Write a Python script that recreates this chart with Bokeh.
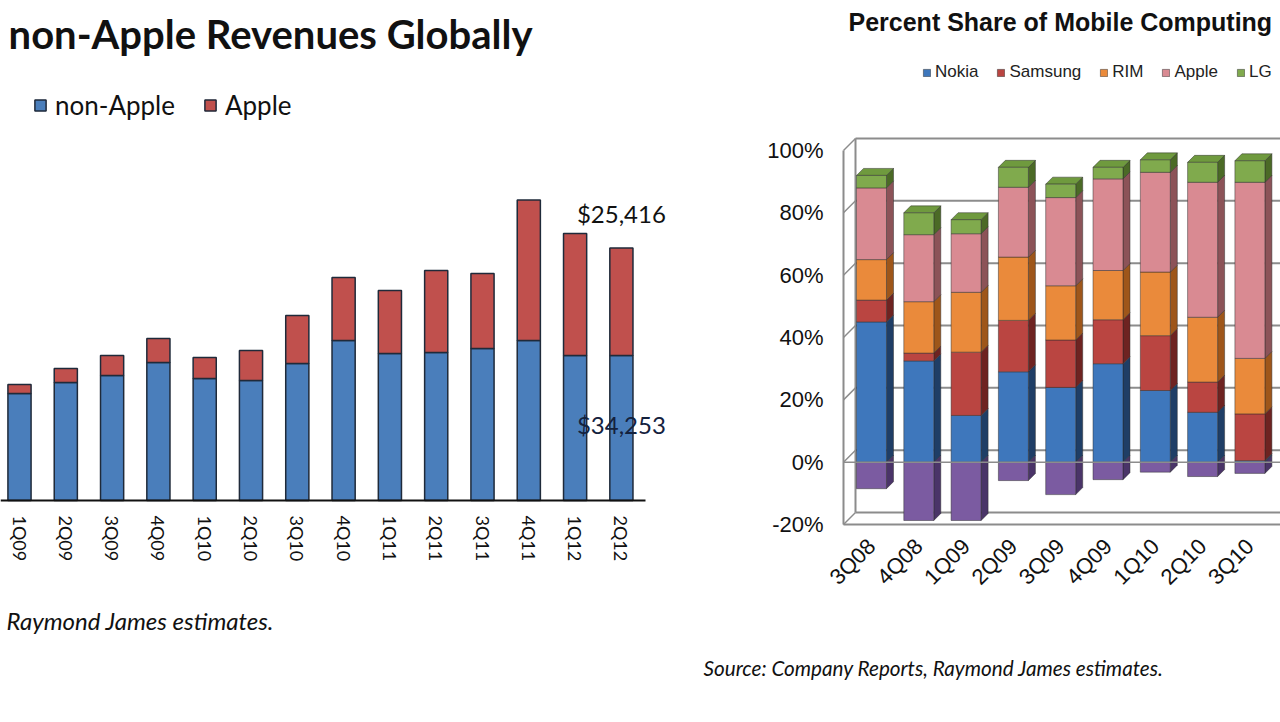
import math
import numpy as np
from bokeh.plotting import figure
from bokeh.models import (Range1d, FixedTicker, Label, Legend, LegendItem,
                          PrintfTickFormatter, ColumnDataSource, LinearAxis)
from bokeh.embed import file_html
from bokeh.resources import INLINE

# ---------------- left chart data (US$ millions) ----------------
rev_quarters = ["1Q09", "2Q09", "3Q09", "4Q09", "1Q10", "2Q10", "3Q10", "4Q10",
                "1Q11", "2Q11", "3Q11", "4Q11", "1Q12", "2Q12"]
non_apple = [25280, 27880, 29530, 32600, 28820, 28350, 32360, 37800,
             34730, 34960, 35900, 37800, 34250, 34253]
apple_rev = [2130, 3310, 4720, 5670, 4960, 7090, 11340, 14880,
             14880, 19370, 17720, 33190, 28820, 25416]

# ---------------- right chart data (% share) ----------------
share_quarters = ["3Q08", "4Q08", "1Q09", "2Q09", "3Q09", "4Q09", "1Q10",
                  "2Q10", "3Q10", "4Q10"]
nokia = [45.0, 32.5, 15.0, 29.0, 24.0, 31.6, 23.0, 16.0, 0.5]
samsung = [7.0, 2.5, 20.3, 16.5, 15.2, 14.1, 17.6, 9.7, 15.0]
rim = [13.0, 16.5, 19.2, 20.3, 17.4, 15.8, 20.4, 20.8, 17.8]
apple_share = [23.0, 21.5, 18.8, 22.4, 28.3, 29.4, 32.0, 43.3, 56.5]
lg = [4.0, 7.0, 4.5, 6.4, 4.3, 3.7, 4.0, 6.4, 6.9]
other = [-8.5, -18.7, -18.7, -5.9, -10.4, -5.6, -3.2, -4.6, -3.6]
y_ticks = [-20, 0, 20, 40, 60, 80, 100]
series_names = ["Nokia", "Samsung", "RIM", "Apple", "LG", "Other"]

FRONT = ["#3E77BC", "#BA4541", "#EA8A3B", "#D98A92", "#80AA4D", "#7B5BA1"]
SIDE = ["#1F3E66", "#6E2321", "#9E561A", "#8C5358", "#4B6A26", "#4A3468"]
TOP = "#6F9A3E"
GRAY = "#8c8c8c"

W, H = 1280, 712

# ---- scales of the two panels (pixels per unit) ----
L_PX_X, L_PX_Y = 46.3, 1 / 236.23      # left: px per quarter, px per $M
L_X0_PX, L_BASE_PX = 19, 500           # first bar centre, baseline
R_PX_X, R_PX_Y = 47.3, 3.117           # right: px per quarter, px per %
R_X0_PX, R_ZERO_PX = 871, 461.7
R_AXIS_PX = 843

lx0 = -L_X0_PX / L_PX_X
ly0 = -(H - L_BASE_PX) / L_PX_Y
p = figure(width=W, height=H, title=None, output_backend="svg",
           toolbar_location=None,
           x_range=Range1d(lx0, lx0 + W / L_PX_X),
           y_range=Range1d(ly0, ly0 + H / L_PX_Y),
           x_axis_location=None, y_axis_location=None, min_border=0,
           background_fill_color="white", border_fill_color="white",
           outline_line_color=None)
p.grid.visible = False

rx0 = -R_X0_PX / R_PX_X
ry0 = -(H - R_ZERO_PX) / R_PX_Y
DXB, DYB = 12 / R_PX_X, 12 / R_PX_Y     # back wall depth
DX, DY = 7 / R_PX_X, 7 / R_PX_Y         # bar depth
BW = 0.634
AXIS_X = (R_AXIS_PX - R_X0_PX) / R_PX_X
p.extra_x_ranges = {"rx": Range1d(rx0, rx0 + W / R_PX_X),
                    "bx": Range1d(rx0 - DXB, rx0 + W / R_PX_X - DXB)}
p.extra_y_ranges = {"ry": Range1d(ry0, ry0 + H / R_PX_Y),
                    "by": Range1d(ry0 - DYB, ry0 + H / R_PX_Y - DYB)}

# =============== LEFT CHART ===============
n = len(rev_quarters)
src_l = ColumnDataSource(dict(x=list(range(n)), non_apple=non_apple, apple=apple_rev))
bars_l = p.vbar_stack(["non_apple", "apple"], x="x", width=0.5, source=src_l,
                      fill_color=["#4A7EBB", "#C0504D"],
                      line_color="#1F2A3A", line_width=1.5)

ax = LinearAxis(ticker=FixedTicker(ticks=list(range(n))), fixed_location=0,
                bounds=(lx0, n - 0.48))
ax.major_label_overrides = {i: q for i, q in enumerate(rev_quarters)}
ax.major_label_orientation = "vertical"
ax.major_tick_line_color = None
ax.minor_tick_line_color = None
ax.major_tick_out = 0
ax.axis_line_color = "#111111"
ax.axis_line_width = 2
ax.major_label_standoff = 15
ax.major_label_text_font = "Lato"
ax.major_label_text_font_size = "18px"
ax.major_label_text_color = "#111111"
p.add_layout(ax, "below")

leg_l = Legend(items=[LegendItem(label="non-Apple", renderers=[bars_l[0]]),
                      LegendItem(label="Apple", renderers=[bars_l[1]])],
               location=(33, H - 121), orientation="horizontal",
               glyph_width=14, glyph_height=14, label_standoff=8, spacing=28,
               padding=0, margin=0, border_line_color=None,
               background_fill_alpha=0, label_text_font="Lato",
               label_text_font_size="26px", label_text_color="#111111")
p.add_layout(leg_l, "center")

p.add_layout(Label(x=532, y=H - 33, x_units="screen", y_units="screen",
                   text="non-Apple Revenues Globally", text_align="right",
                   text_baseline="middle", text_font="Lato",
                   text_font_style="bold", text_font_size="40px",
                   text_color="#111111"))
p.add_layout(Label(x=6, y=H - 620, x_units="screen", y_units="screen",
                   text="Raymond James estimates.",
                   text_align="left", text_baseline="middle", text_font="Lato",
                   text_font_style="italic", text_font_size="24px",
                   text_color="#111111"))

last = n - 1
p.add_layout(Label(x=last, y=non_apple[last] + apple_rev[last],
                   text=f"${apple_rev[last]:,}", text_align="center",
                   text_baseline="middle", y_offset=34, text_font="Lato",
                   text_font_size="24px", text_color="#111111"))
p.add_layout(Label(x=last, y=non_apple[last] / 2,
                   text=f"${non_apple[last]:,}", text_align="center",
                   text_baseline="middle", y_offset=4, text_font="Lato",
                   text_font_size="24px", text_color="#14213d"))

# =============== RIGHT CHART ===============
m = len(nokia)
xr_end = rx0 + W / R_PX_X

# back wall: gridlines/top/floor, left edge
p.segment(x0=[AXIS_X] * len(y_ticks), y0=y_ticks, x1=[xr_end] * len(y_ticks), y1=y_ticks,
          x_range_name="bx", y_range_name="by", line_color=GRAY, line_width=2)
p.segment(x0=[AXIS_X], y0=[y_ticks[0]], x1=[AXIS_X], y1=[y_ticks[-1]],
          x_range_name="bx", y_range_name="by", line_color=GRAY, line_width=2)
# depth ticks joining the front axis to the back wall
p.segment(x0=[AXIS_X] * len(y_ticks), y0=y_ticks,
          x1=[AXIS_X + DXB] * len(y_ticks), y1=[t + DYB for t in y_ticks],
          x_range_name="rx", y_range_name="ry", line_color=GRAY, line_width=1.5)

x = np.arange(m)
pos = np.array([nokia, samsung, rim, apple_share, lg])
tops = np.cumsum(pos, axis=0)
bots = np.vstack([np.zeros(m), tops[:-1]])
neg = np.array(other)

side_xs, side_ys, side_c = [], [], []
for i in range(m):
    xr = x[i] + BW / 2
    side_xs.append([xr, xr + DX, xr + DX, xr])
    side_ys.append([neg[i], neg[i] + DY, DY, 0])
    side_c.append(SIDE[5])
    for k in range(pos.shape[0]):
        side_xs.append([xr, xr + DX, xr + DX, xr])
        side_ys.append([bots[k, i], bots[k, i] + DY, tops[k, i] + DY, tops[k, i]])
        side_c.append(SIDE[k])
    xl = x[i] - BW / 2
    t = tops[-1, i]
    side_xs.append([xl, xl + DX, xr + DX, xr])
    side_ys.append([t, t + DY, t + DY, t])
    side_c.append(TOP)

p.patches(xs=side_xs, ys=side_ys, fill_color=side_c, line_color="#2a2a2a",
          line_width=0.8, line_alpha=0.6, x_range_name="rx", y_range_name="ry")

r_other = p.vbar(x=x, bottom=neg, top=0, width=BW, fill_color=FRONT[5],
                 line_color="#2a2a2a", line_width=0.8, line_alpha=0.6,
                 x_range_name="rx", y_range_name="ry")
src_r = ColumnDataSource(dict(x=x, Nokia=nokia, Samsung=samsung, RIM=rim,
                              Apple=apple_share, LG=lg))
bars_r = p.vbar_stack(series_names[:5], x="x", width=BW, source=src_r,
                      fill_color=FRONT[:5], line_color="#2a2a2a",
                      line_width=0.8, line_alpha=0.6,
                      x_range_name="rx", y_range_name="ry")

p.segment(x0=[AXIS_X], y0=[0], x1=[xr_end], y1=[0], x_range_name="rx",
          y_range_name="ry", line_color=GRAY, line_width=1.5)

yax = LinearAxis(x_range_name="rx", y_range_name="ry", fixed_location=AXIS_X,
                 ticker=FixedTicker(ticks=y_ticks),
                 formatter=PrintfTickFormatter(format="%d%%"),
                 bounds=(y_ticks[0], y_ticks[-1]))
yax.major_tick_line_color = None
yax.minor_tick_line_color = None
yax.major_tick_out = 0
yax.axis_line_color = GRAY
yax.axis_line_width = 2
yax.major_label_standoff = 20
yax.major_label_text_font = "Liberation Sans"
yax.major_label_text_font_size = "22px"
yax.major_label_text_color = "#111111"
p.add_layout(yax, "left")

xax = LinearAxis(x_range_name="rx", y_range_name="ry", fixed_location=y_ticks[0],
                 ticker=FixedTicker(ticks=list(range(len(share_quarters)))),
                 bounds=(AXIS_X, xr_end))
xax.major_label_overrides = {i: q for i, q in enumerate(share_quarters)}
xax.major_label_orientation = math.pi / 4
xax.major_tick_line_color = None
xax.minor_tick_line_color = None
xax.major_tick_out = 0
xax.axis_line_color = GRAY
xax.axis_line_width = 2
xax.major_label_standoff = 18
xax.major_label_text_font = "Liberation Sans"
xax.major_label_text_font_size = "22px"
xax.major_label_text_color = "#111111"
p.add_layout(xax, "below")

leg_r = Legend(items=[LegendItem(label=series_names[k], renderers=[bars_r[k]]) for k in range(5)],
               location=(922, H - 82), orientation="horizontal",
               glyph_width=9, glyph_height=9, label_standoff=4, spacing=18,
               padding=0, margin=0, border_line_color=None,
               background_fill_alpha=0, label_text_font="Liberation Sans",
               label_text_font_size="17px", label_text_color="#222222")
p.add_layout(leg_r, "center")

p.add_layout(Label(x=848, y=H - 21, x_units="screen", y_units="screen",
                   text="Percent Share of Mobile Computing",
                   text_align="left", text_baseline="middle",
                   text_font="Liberation Sans", text_font_style="bold",
                   text_font_size="25px", text_color="#111111"))
p.add_layout(Label(x=703, y=H - 667, x_units="screen", y_units="screen",
                   text="Source:  Company Reports, Raymond James estimates.",
                   text_align="left", text_baseline="middle", text_font="Lato",
                   text_font_style="italic", text_font_size="20.7px",
                   text_color="#111111"))

open("out.html", "w").write(file_html(p, INLINE))
